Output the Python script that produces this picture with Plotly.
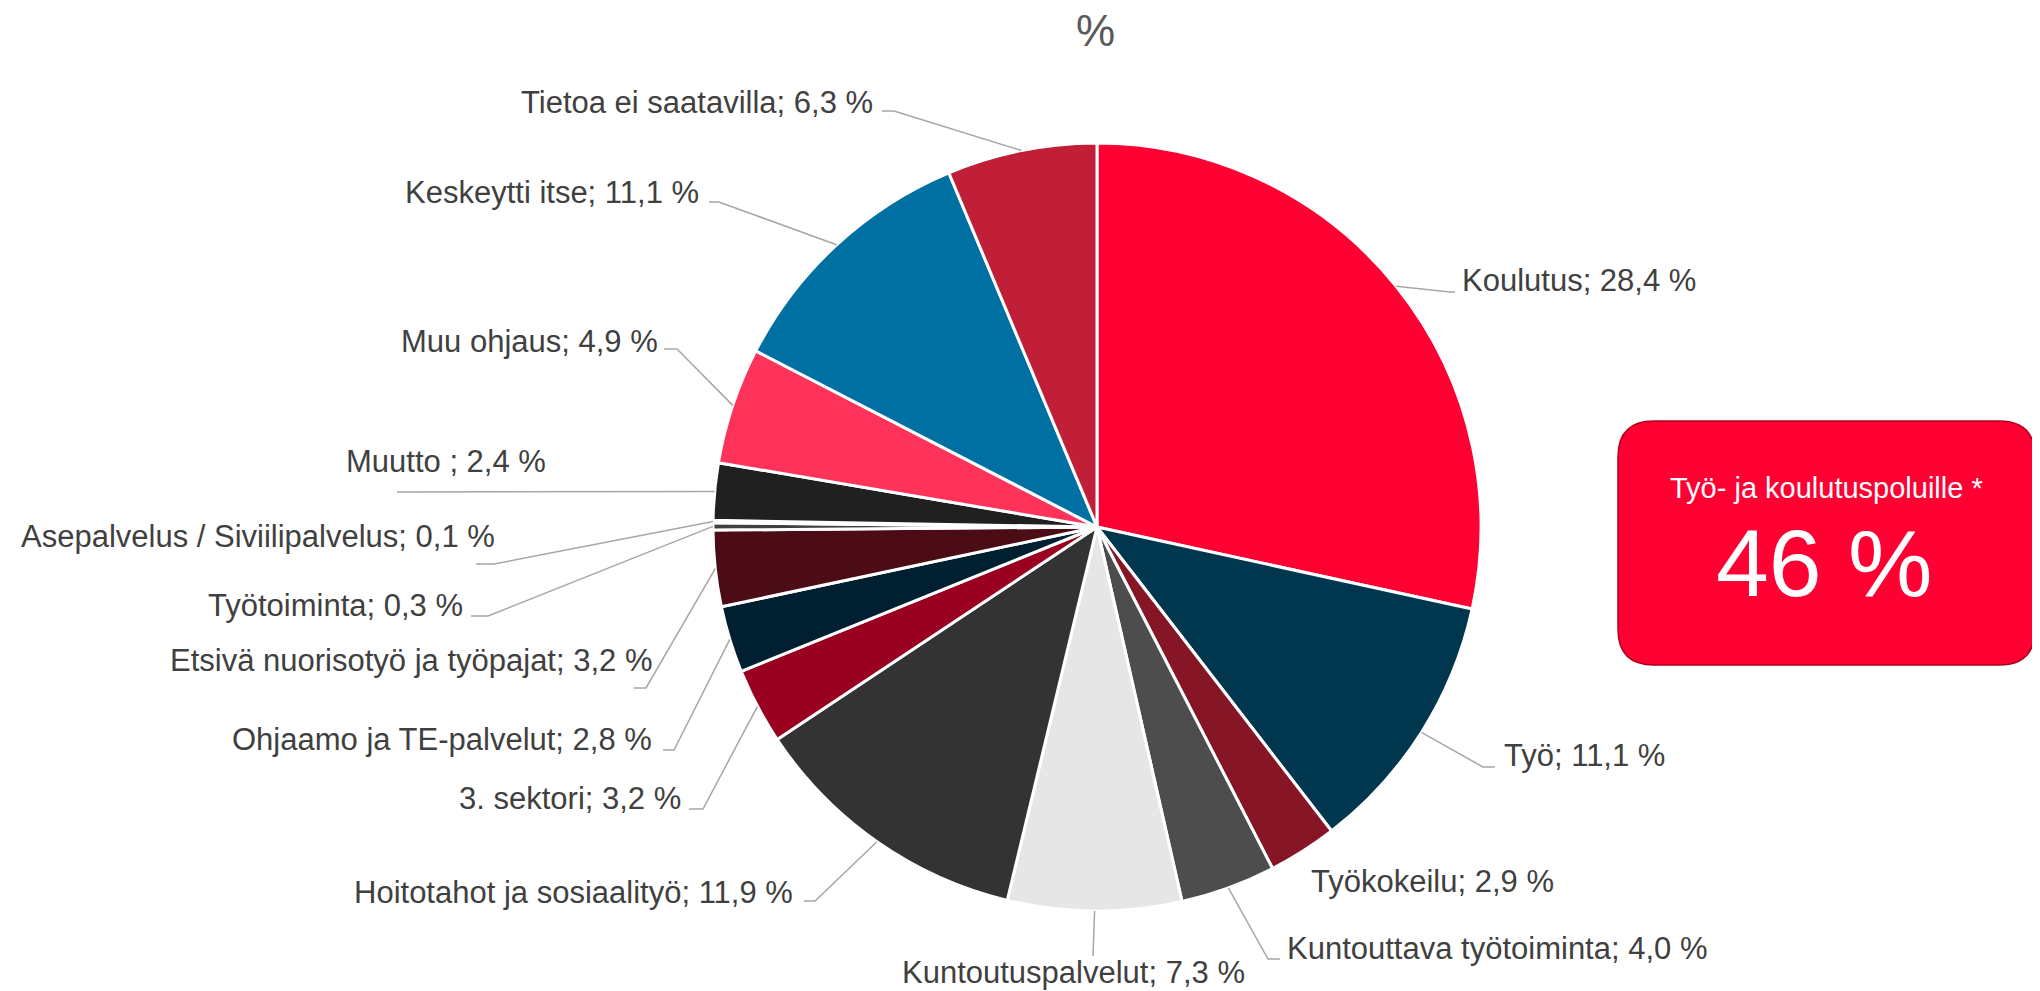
import math
import plotly.graph_objects as go

# ---- data ----
categories = [
    "Koulutus", "Työ", "Työkokeilu", "Kuntouttava työtoiminta", "Kuntoutuspalvelut",
    "Hoitotahot ja sosiaalityö", "3. sektori", "Ohjaamo ja TE-palvelut",
    "Etsivä nuorisotyö ja työpajat", "Työtoiminta", "Asepalvelus / Siviilipalvelus",
    "Muutto ", "Muu ohjaus", "Keskeytti itse", "Tietoa ei saatavilla",
]
values = [28.4, 11.1, 2.9, 4.0, 7.3, 11.9, 3.2, 2.8, 3.2, 0.3, 0.1, 2.4, 4.9, 11.1, 6.3]
colors = [
    "#FF0033", "#00374F", "#861626", "#4D4D4D", "#E6E6E6",
    "#333333", "#9A001F", "#001F30", "#4B0C16", "#404040", "#BFBFBF",
    "#202020", "#FF335A", "#0070A2", "#C01F37",
]
title_text = "%"
box_title = "Työ- ja koulutuspoluille *"
box_value = "46 %"

# ---- layout geometry (screen pixels) ----
OFF = 8                      # default page body margin
FW, FH = 2040 - OFF, 991 - OFF
CX, CY, R = 1097, 527, 384

# label positions: (x, y, anchor) and leader knee points
label_pos = [
    (1460, 280, "left"),
    (1502, 755, "left"),
    (1309, 881, "left"),
    (1285, 948, "left"),
    (1073, 972, "center"),
    (795, 892, "right"),
    (683, 798, "right"),
    (654, 739, "right"),
    (654, 660, "right"),
    (465, 605, "right"),
    (497, 536, "right"),
    (548, 462, "right"),
    (660, 341, "right"),
    (701, 192, "right"),
    (875, 102, "right"),
]
leader_knees = [
    [(1450, 292), (1455, 292)],
    [(1483, 767), (1495, 767)],
    None,
    [(1268, 959), (1280, 959)],
    [(1093, 956)],
    [(815, 901), (804, 901)],
    [(703, 809), (689, 809)],
    [(674, 750), (663, 750)],
    [(646, 688), (634, 688)],
    [(488, 616), (471, 616)],
    [(494, 564), (476, 564)],
    [(397, 492)],
    [(677, 349), (664, 349)],
    [(719, 202), (709, 202)],
    [(894, 111), (882, 111)],
]


def px(x):
    return (x - OFF) / FW


def py(y):
    return 1 - (y - OFF) / FH


def fmt(v):
    return f"{v:.1f}".replace(".", ",")


fig = go.Figure()
fig.add_trace(go.Pie(
    labels=categories,
    values=values,
    sort=False,
    direction="clockwise",
    rotation=0,
    textinfo="none",
    marker=dict(colors=colors, line=dict(color="white", width=3)),
    domain=dict(x=[px(CX - R), px(CX + R)], y=[py(CY + R), py(CY - R)]),
    showlegend=False,
    hoverinfo="label+value",
))

FONT = "Arial, Liberation Sans, sans-serif"
annotations = []
shapes = []
total = sum(values)
cum = 0.0
for name, v, pos, knees in zip(categories, values, label_pos, leader_knees):
    theta = 2 * math.pi * (cum + v / 2) / total
    cum += v
    ex = CX + R * math.sin(theta)
    ey = CY - R * math.cos(theta)
    txt = f"{name}; {fmt(v)} %"
    x, y, anc = pos
    annotations.append(dict(
        x=px(x), y=py(y), xref="paper", yref="paper", text=txt, showarrow=False,
        xanchor=anc, yanchor="middle",
        font=dict(family=FONT, size=31, color="#404040"),
    ))
    if knees:
        pts = [(ex, ey)] + knees
        path = "M " + " L ".join(f"{px(a):.5f},{py(b):.5f}" for a, b in pts)
        shapes.append(dict(type="path", xref="paper", yref="paper", path=path,
                           line=dict(color="#A6A6A6", width=1.5)))

# title
annotations.append(dict(
    x=px(1095), y=py(30), xref="paper", yref="paper", text=title_text, showarrow=False,
    xanchor="center", yanchor="middle", borderpad=0,
    font=dict(family=FONT, size=44, color="#595959"),
))

# rounded box
bx0, by0, bx1, by1, rr = 1618, 421, 2035, 665, 36


def P(a, b):
    return f"{px(a):.5f},{py(b):.5f}"


box_path = (
    f"M {P(bx0 + rr, by0)} L {P(bx1 - rr, by0)} Q {P(bx1, by0)} {P(bx1, by0 + rr)} "
    f"L {P(bx1, by1 - rr)} Q {P(bx1, by1)} {P(bx1 - rr, by1)} "
    f"L {P(bx0 + rr, by1)} Q {P(bx0, by1)} {P(bx0, by1 - rr)} "
    f"L {P(bx0, by0 + rr)} Q {P(bx0, by0)} {P(bx0 + rr, by0)} Z"
)
shapes.append(dict(type="path", xref="paper", yref="paper", path=box_path,
                   fillcolor="#FF0033", line=dict(color="#B0001E", width=1.5)))
annotations.append(dict(
    x=px(1826), y=py(488), xref="paper", yref="paper", text=box_title, showarrow=False,
    xanchor="center", yanchor="middle",
    font=dict(family=FONT, size=29, color="white"),
))
annotations.append(dict(
    x=px(1824), y=py(563), xref="paper", yref="paper", text=box_value, showarrow=False,
    xanchor="center", yanchor="middle",
    font=dict(family=FONT, size=95, color="white"),
))

fig.update_layout(
    width=FW, height=FH,
    margin=dict(l=0, r=0, t=0, b=0),
    paper_bgcolor="white", plot_bgcolor="white",
    annotations=annotations, shapes=shapes,
)

fig.write_html("out.html")
